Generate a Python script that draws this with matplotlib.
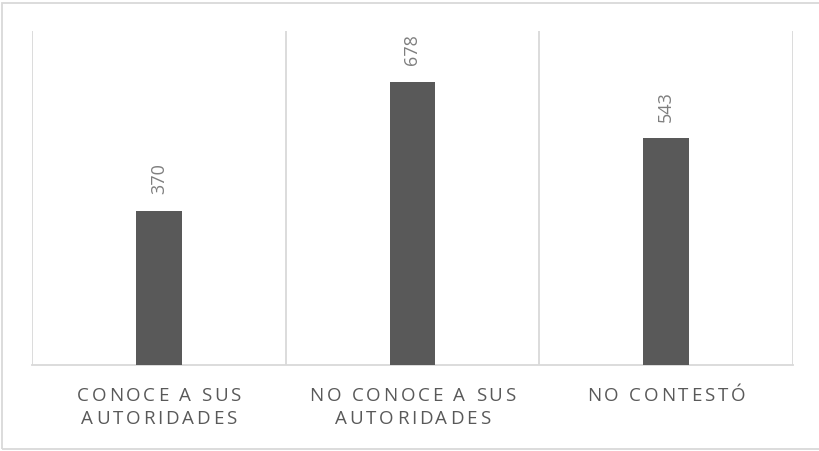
import matplotlib
matplotlib.use("Agg")
import matplotlib.pyplot as plt
from matplotlib import font_manager, transforms
from matplotlib.ft2font import FT2Font
from matplotlib.patches import Rectangle

categories = [["CONOCE A SUS", "AUTORIDADES"], ["NO CONOCE A SUS", "AUTORIDADES"], ["NO CONTESTÓ"]]
values = [370, 678, 543]

W, H, DPI = 820, 451, 100
fig = plt.figure(figsize=(W / DPI, H / DPI), dpi=DPI)
fig.patch.set_facecolor("white")

# outer border
fig.patches.append(Rectangle((2.5 / W, (H - 448.5) / H), (830 - 2.5) / W, (448.5 - 2.5) / H,
                             transform=fig.transFigure, fill=False, edgecolor="#d9d9d9",
                             linewidth=1.3, clip_on=False))

left, right, top, bottom = 32, 793, 31, 365
ax = fig.add_axes([left / W, (H - bottom) / H, (right - left) / W, (bottom - top) / H])
n = len(values)
x = list(range(n))
ax.bar(x, values, width=0.18, color="#595959", zorder=3)
ax.set_xlim(-0.5, n - 0.5)
ax.set_ylim(0, 800)
for s in ["top", "right", "left"]:
    ax.spines[s].set_visible(False)
ax.spines["bottom"].set_color("#d9d9d9")
ax.spines["bottom"].set_linewidth(1.3)
ax.set_xticks([])
ax.set_yticks([])
for b in [i - 0.5 for i in range(n + 1)]:
    ax.axvline(b, color="#d9d9d9", linewidth=1.3, zorder=1)

fam = "Open Sans"
for xi, v in zip(x, values):
    ax.annotate(str(v), (xi, v), xytext=(0, 12), textcoords="offset points",
                rotation=90, ha="center", va="bottom", fontsize=13, color="#7f7f7f",
                family=fam)

# letter-spaced category labels
fs = 13.5
spacing_px = 2.8
fp = font_manager.FontProperties(family=fam, size=fs)
font = FT2Font(font_manager.findfont(fp))
font.set_size(fs, DPI)

def adv(ch):
    g = font.load_char(ord(ch))
    return g.linearHoriAdvance / 65536.0

line_y = [394, 417]
for xi, lines in zip(x, categories):
    for li, line in enumerate(lines):
        advs = [adv(c) for c in line]
        total = sum(advs) + spacing_px * (len(line) - 1)
        pos = -total / 2.0
        base = transforms.blended_transform_factory(ax.transData, fig.transFigure)
        for c, a in zip(line, advs):
            if c != " ":
                tr = base + transforms.ScaledTranslation(pos / DPI, 0, fig.dpi_scale_trans)
                fig.text(xi, (H - line_y[li]) / H, c, transform=tr, ha="left", va="center_baseline",
                         fontsize=fs, color="#595959", family=fam)
            pos += a + spacing_px

fig.savefig("out.png", dpi=DPI, facecolor="white")
